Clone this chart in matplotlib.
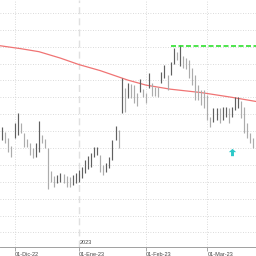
import matplotlib
matplotlib.use("Agg")
import matplotlib.pyplot as plt
from matplotlib.path import Path

# daily bars, one per trading day (index 0 = late Nov 2022)
highs = [9.12, 8.97, 8.79, 8.56, 9.24, 9.53, 9.24, 8.94, 8.77, 8.65,
         8.50, 8.65, 9.30, 8.88, 8.77, 8.50, 7.82, 7.67, 7.70, 7.76,
         7.73, 7.67, 7.64, 7.70, 7.76, 7.85, 7.94, 8.14, 8.26, 8.35,
         8.53, 8.53, 8.29, 8.00, 8.05, 8.23, 8.74, 9.15, 9.03, 10.57,
         10.27, 10.42, 10.39, 10.36, 10.13, 10.54, 10.25, 10.13, 10.72, 10.42,
         10.30, 10.30, 10.75, 10.96, 10.66, 11.04, 11.46, 11.34, 11.55, 11.22,
         11.16, 11.10, 10.87, 10.66, 10.36, 10.22, 10.22, 10.07, 9.42, 9.68,
         9.68, 9.68, 9.71, 9.71, 9.68, 9.71, 10.01, 10.01, 9.89, 9.71,
         9.24, 8.94, 8.79]
lows = [8.74, 8.65, 8.38, 8.23, 8.79, 8.88, 8.94, 8.53, 8.53, 8.29,
        8.20, 8.23, 8.38, 8.65, 8.50, 7.29, 7.49, 7.34, 7.46, 7.49,
        7.46, 7.34, 7.34, 7.40, 7.46, 7.49, 7.61, 7.76, 7.88, 7.94,
        8.23, 8.29, 7.79, 7.70, 7.79, 7.91, 8.14, 8.74, 8.50, 9.53,
        9.56, 9.98, 9.98, 9.83, 9.74, 10.16, 10.01, 9.83, 10.27, 10.04,
        10.04, 10.01, 10.42, 10.57, 10.22, 10.66, 10.99, 11.10, 10.93, 10.87,
        10.84, 10.57, 10.36, 9.92, 9.92, 9.77, 9.68, 9.33, 9.12, 9.27,
        9.33, 9.24, 9.33, 9.42, 9.24, 9.42, 9.62, 9.68, 9.39, 8.94,
        8.79, 8.65, 8.50]

# moving average (sampled)
ma_idx = [-1, 6, 12, 19, 25, 32, 41, 47, 55, 65, 75, 84]
ma_val = [11.53, 11.44, 11.35, 11.16, 10.97, 10.79, 10.51, 10.36, 10.24, 10.14, 10.00, 9.86]

resist_start = 55
resist_level = 11.52
signal_idx = 75
signal_price = 8.38

month_pos = [4, 25, 47, 67]
month_labels = ["01-Dic-22", "01-Ene-23", "01-Feb-23", "01-Mar-23"]
year_pos = 25
year_label = "2023"

dark = '#606060'
light = '#acacac'
grid = '#cfcfcf'

fig = plt.figure(figsize=(2.56, 2.56), dpi=100)
ax = fig.add_axes([0, 9/256, 1, 247/256])

for p in [6.0 + 0.5*k for k in range(14)]:
    ax.axhline(p, color=grid, lw=0.6, ls=(0, (1, 2)), zorder=0)
for m in month_pos:
    if m == year_pos:
        ax.axvline(m, color='#e0e0e0', lw=1.0, ls=(0, (5, 3)), zorder=0)
    else:
        ax.axvline(m, color=grid, lw=0.6, ls=(0, (1, 2)), zorder=0)

x = list(range(len(highs)))
cols = []
for i in x:
    mid = (highs[i] + lows[i]) / 2
    prev = (highs[i-1] + lows[i-1]) / 2 if i > 0 else mid
    cols.append(dark if mid >= prev else light)
ax.vlines(x, lows, highs, colors=cols, lw=0.85, zorder=3)

ax.plot(ma_idx, ma_val, color='#f07474', lw=0.9, zorder=2)
ax.plot([resist_start, 84], [resist_level, resist_level], color='#2ee02e',
        lw=1.2, ls=(0, (3, 1.5)), zorder=4)

arrow = Path([(0, 1), (-1, 0.1), (-0.4, 0.1), (-0.4, -1), (0.4, -1),
              (0.4, 0.1), (1, 0.1), (0, 1)])
ax.scatter([signal_idx], [signal_price], marker=arrow, s=28, color='#2cc8c8',
           zorder=5, linewidths=0)

ax.set_xlim(-0.75, 82.9)
ax.set_ylim(5.57, 12.88)
ax.set_yticks([])
ax.set_xticks(month_pos)
ax.set_xticklabels(month_labels, ha='left', fontsize=4, family='Liberation Sans',
                   color='#444444')
ax.tick_params(axis='x', length=3, width=0.6, color='#999999', pad=0.5)
for s in ['top', 'right', 'left']:
    ax.spines[s].set_visible(False)
ax.spines['bottom'].set_color('#a0a0a0')
ax.spines['bottom'].set_linewidth(0.7)
ax.text(year_pos + 0.3, 5.62, year_label, fontsize=4, family='Liberation Sans',
        color='#444444', va='bottom', ha='left')

fig.savefig('out.png', dpi=100)
